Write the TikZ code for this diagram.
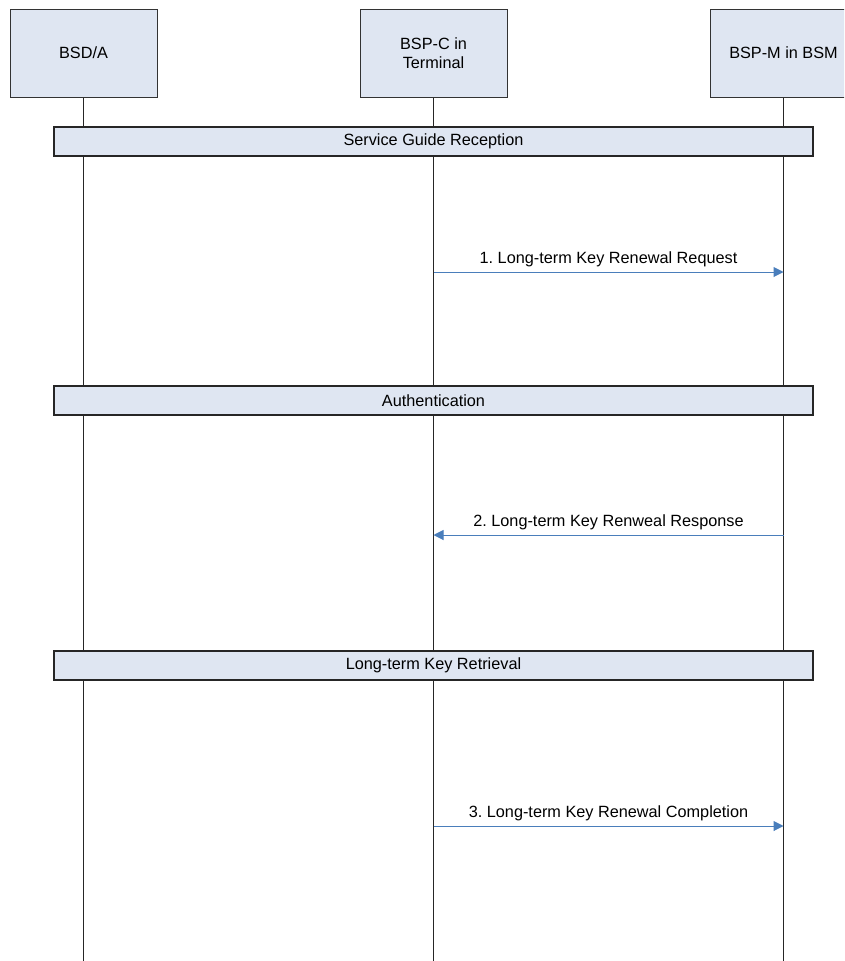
\documentclass[tikz,border=0pt]{standalone}
\usepackage{fontspec}
\setmainfont{Liberation Sans}
\usepackage{tikz}
\usetikzlibrary{arrows.meta,positioning,calc}
\frenchspacing

\definecolor{boxfill}{HTML}{DFE6F2}
\definecolor{msgblue}{HTML}{4A7EBB}

\tikzset{
  actor/.style={draw=black!80,fill=boxfill,line width=0.75pt,minimum width=110.25pt,minimum height=66pt,align=center,inner sep=0pt},
  phase/.style={draw=black!85,fill=boxfill,line width=0.9pt,minimum width=569.25pt,minimum height=21.75pt,inner sep=0pt},
  lifeline/.style={draw=black!85,line width=0.75pt},
  msg/.style={draw=msgblue,line width=0.75pt,-{Triangle[length=7.5pt,width=7.5pt]}}
}

\begin{document}
\begin{tikzpicture}[x=0.75pt,y=-0.75pt,font=\fontsize{12.2}{14}\selectfont]
          \clip (0,0) rectangle (844,961);
          \useasboundingbox (0,0) rectangle (844,961);

          % actors
          \node[actor] (bsda) at (83.5,53) {BSD/A};
          \node[actor] (bspc) at (433.5,53) {BSP-C in\\Terminal};
          \node[actor] (bspm) at (783.5,53) {BSP-M in BSM};

          % lifelines
          \coordinate (bsdaend) at (83.5,961);
          \coordinate (bspcend) at (433.5,961);
          \coordinate (bspmend) at (783.5,961);
          \draw[lifeline] (bsda.south) -- (bsdaend);
          \draw[lifeline] (bspc.south) -- (bspcend);
          \draw[lifeline] (bspm.south) -- (bspmend);

          % phases
          \node[phase] (sgr) at (433.5,141.5) {Service Guide Reception};
          \node[phase] (auth) at (433.5,400.5) {Authentication};
          \node[phase] (ltkr) at (433.5,665.5) {Long-term Key Retrieval};

          % messages
          \coordinate (creq) at (433.5,272);
          \coordinate (mreq) at (783.5,272);
          \draw[msg] (creq) -- node[above,black] {1. Long-term Key Renewal Request} (mreq);

          \coordinate (mresp) at (783.5,535);
          \coordinate (cresp) at (433.5,535);
          \draw[msg] (mresp) -- node[above,black] {2. Long-term Key Renweal Response} (cresp);

          \coordinate (ccomp) at (433.5,826);
          \coordinate (mcomp) at (783.5,826);
          \draw[msg] (ccomp) -- node[above,black] {3. Long-term Key Renewal Completion} (mcomp);
        \end{tikzpicture}
\end{document}
